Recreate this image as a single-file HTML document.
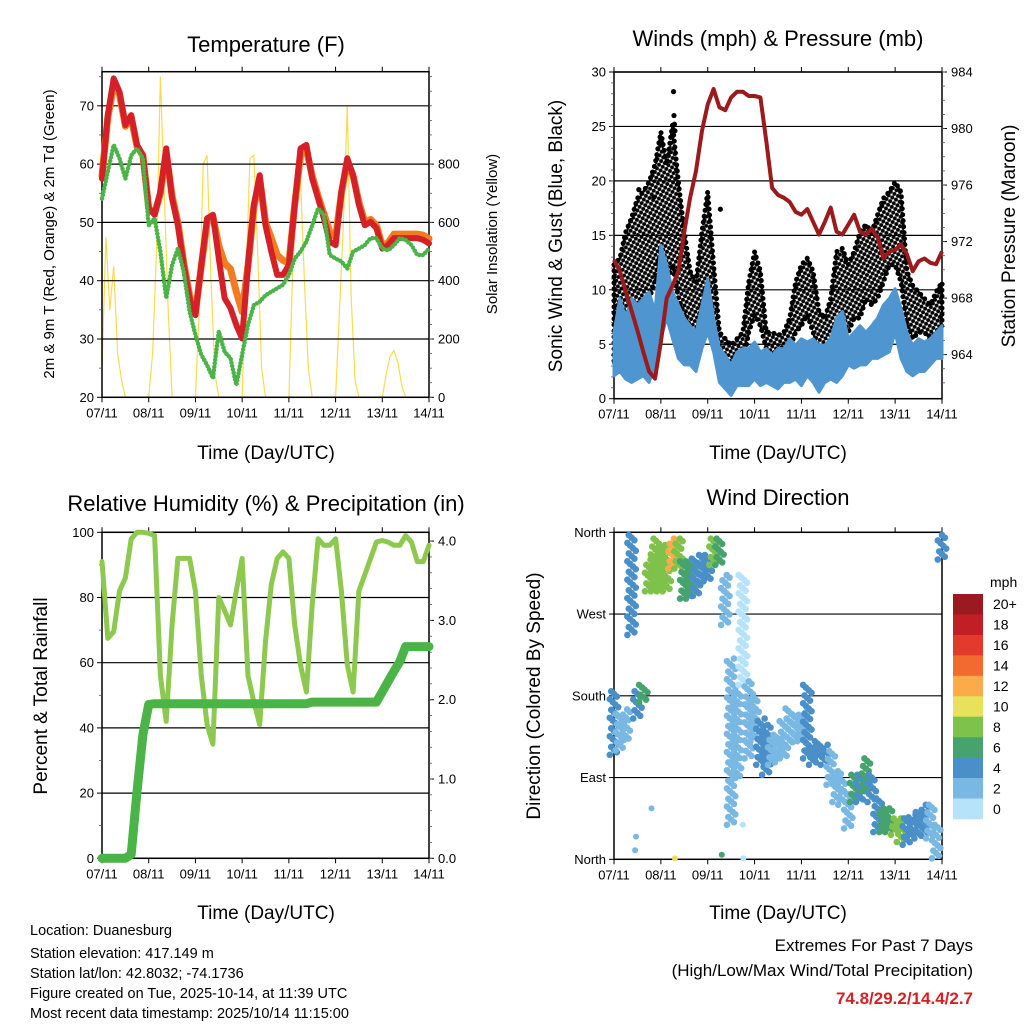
<!DOCTYPE html>
<html><head><meta charset="utf-8"><style>
body{margin:0;background:#fff}
svg{display:block;font-family:"Liberation Sans",sans-serif}
</style></head><body>
<svg id="c" width="1024" height="1024" viewBox="0 0 1024 1024" xmlns="http://www.w3.org/2000/svg">
<defs>
<pattern id="dotpat" width="4.2" height="4.2" patternUnits="userSpaceOnUse" patternTransform="rotate(30)">
<circle cx="2.1" cy="2.1" r="2.0" fill="#000"/>
</pattern>
</defs>
<rect x="0" y="0" width="1024" height="1024" fill="#fff"/>
<g id="g1"></g>
<g id="g2"></g>
<g id="g3"></g>
<g id="g4"></g>
<g font-size="22" text-anchor="middle" fill="#000">
<text x="266" y="52">Temperature (F)</text>
<text x="778" y="46">Winds (mph) &amp; Pressure (mb)</text>
<text x="266" y="511">Relative Humidity (%) &amp; Precipitation (in)</text>
<text x="778" y="505">Wind Direction</text>
</g>
<g font-size="19" text-anchor="middle" fill="#000">
<text x="266" y="459">Time (Day/UTC)</text>
<text x="778" y="459">Time (Day/UTC)</text>
<text x="266" y="919">Time (Day/UTC)</text>
<text x="778" y="919">Time (Day/UTC)</text>
<text transform="translate(562,236) rotate(-90)">Sonic Wind &amp; Gust (Blue, Black)</text>
<text transform="translate(1015,236) rotate(-90)">Station Pressure (Maroon)</text>
<text transform="translate(47,696) rotate(-90)">Percent &amp; Total Rainfall</text>
<text transform="translate(540,696) rotate(-90)">Direction (Colored By Speed)</text>
</g>
<g font-size="15" text-anchor="middle" fill="#000">
<text transform="translate(54,234) rotate(-90)">2m &amp; 9m T (Red, Orange) &amp; 2m Td (Green)</text>
<text transform="translate(497,234) rotate(-90)">Solar Insolation (Yellow)</text>
</g>
<g font-size="14.5" fill="#000">
<text x="30" y="935">Location: Duanesburg</text>
<text x="30" y="958">Station elevation: 417.149 m</text>
<text x="30" y="978">Station lat/lon: 42.8032; -74.1736</text>
<text x="30" y="998">Figure created on Tue, 2025-10-14, at 11:39 UTC</text>
<text x="30" y="1018">Most recent data timestamp: 2025/10/14 11:15:00</text>
</g>
<g font-size="17" text-anchor="end" fill="#000">
<text x="973" y="951">Extremes For Past 7 Days</text>
<text x="973" y="976">(High/Low/Max Wind/Total Precipitation)</text>
<text x="973" y="1004" fill="#d42027" font-weight="bold">74.8/29.2/14.4/2.7</text>
</g>
</svg>
<script>
// ---- data (3-hour steps, 57 points over 7 days) ----
const dayLabels = ["07/11","08/11","09/11","10/11","11/11","12/11","13/11","14/11"];
const tempRed = [57.5,68.4,74.7,72.4,66.7,68.4,63.3,61.5,52.4,51.3,55.3,62.7,54.1,49.5,42.7,37,34.1,42.7,50.7,51.3,43.8,37,35.3,32.4,30.1,42.7,53,58.1,49.5,45,41,41,42.7,53,62.7,63.3,57.5,54.1,50.7,46.7,46.1,55.3,61,58.1,53,49.5,50.1,49,45.5,46.1,47.3,47.3,47.3,47.3,47.3,47,46.4];
const tempOrange = [58,68,73.5,72,66.5,68,63,61.5,52.5,51.5,55,62,54.5,50,43,37.5,34.5,42.5,50,51,46,43,42,38.1,34.7,42.5,52.5,57.5,50,47.3,44.4,43.5,43,53,61.5,62.5,58,54.5,51.5,48.4,47.5,55,60.5,58,53.5,50,50.5,49.5,46,46.5,48,48,48,48,48,47.8,47.2];
const dewGreen = [54.1,58.7,63.3,61,57.5,61.5,62.7,61,49.5,50.7,45,37,42.7,45.5,41.5,34.7,30.7,27.3,25.5,23.3,31.3,27.8,26.7,22.1,27.3,32.4,35.8,36.4,37.5,38.1,38.7,39.3,41,43.8,45,46.7,49.5,52.4,51.3,44.4,43.8,43.3,42.1,45,45.5,46.1,47.3,47.3,45.5,45.2,46.1,47.3,47,46.1,44.4,44.4,45.5];
// solar at 2-hour steps (85 points)
const solar = [100,550,300,450,150,60,0,0,0,0,0,0,
 0,150,500,1100,700,300,0,0,0,0,0,0,
 0,300,800,830,400,80,0,0,0,0,0,0,
 0,400,820,830,500,100,0,0,0,0,0,0,
 0,450,700,750,400,100,0,0,0,0,0,0,
 0,300,600,1000,350,60,0,0,0,0,0,0,
 0,80,140,160,120,40,0,0,0,0,0,0,0];
const pressure = [970.7,969.9,968.5,967.1,965.7,964.2,962.8,962.3,964.9,968,968.9,969.9,972.7,975.1,977,979.8,981.7,982.8,981.5,981.3,982.2,982.6,982.6,982.3,982.3,982.2,979.1,975.8,975.3,975.1,974.8,974.1,973.9,974.3,973.4,972.5,973.4,974.4,972.7,972.5,973.2,973.9,972.7,972.5,972.9,972.3,970.8,971.3,971.4,971.8,971.1,969.9,970.6,970.8,970.5,970.4,971.3];
const windLo = [2.1,2.5,1.8,1.5,1.8,2.1,1.5,3.1,5.5,7.4,5.5,3.7,3.1,3.1,2.5,4.6,6.1,4.3,1.5,0.9,0.3,1.2,1.2,1.2,1.8,1.2,1.5,1.2,0.9,1.5,1.5,1.8,1.2,2.1,1.5,0.6,1.5,1.8,1.5,2.1,3.1,2.8,3.1,3.1,3.7,3.7,4.0,4.3,6.1,3.7,2.5,2.1,2.5,2.5,3.1,3.7,3.7];
const windHi = [6.1,9.2,7.4,9.2,8.6,9.2,9.8,8.0,14.1,12.3,9.8,8.6,7.4,6.7,6.1,8.6,11.0,7.4,4.6,4.0,3.1,4.3,4.6,4.6,5.2,4.3,4.6,4.0,4.6,4.6,5.5,4.9,5.5,5.2,5.5,4.9,4.9,5.5,7.4,8.0,5.5,6.1,6.7,6.1,6.7,7.4,8.6,9.2,10.1,8.3,6.1,4.9,5.5,5.2,5.5,6.1,6.7];
const gustLo = [3.1,4.6,4.6,4.0,6.1,6.7,9.2,10.7,13.8,10.7,12.3,9.2,7.7,6.1,5.5,8.6,10.7,6.7,3.7,2.5,1.5,3.1,3.1,6.1,7.7,6.7,4.6,3.1,3.1,3.7,4.6,6.1,6.7,7.7,6.1,4.3,3.7,4.3,4.6,6.7,6.1,7.4,7.4,9.2,8.6,9.2,10.7,12.3,12.3,10.7,6.7,5.5,6.1,6.1,5.5,6.1,6.7];
const gustHi = [12.3,12.9,15.3,16.6,18.4,19.0,19.9,21.5,24.5,21.5,25.2,19.9,15.3,11.7,10.7,15.3,19.0,12.3,6.1,5.5,4.9,5.5,6.1,10.7,13.5,11.7,6.1,6.1,5.8,6.1,7.4,10.7,12.3,12.9,11.7,8.0,7.4,9.2,13.5,13.8,12.3,13.5,15.3,16.0,15.3,16.9,18.4,19.0,19.9,19.0,11.7,10.4,9.8,9.2,8.6,9.8,10.7];
const gustOutT = [1.27,1.28,1.29,1.3,0.53,0.85,2.27];
const gustOutV = [28.2,26,25.2,24.6,19.2,18.5,17.4];
const rh = [91,67.5,69.5,82,86,98,100,100,99.7,99,56,42,71.6,92,92,92,82,56,41,35,80,76,71.6,82,92,56,48,41,66.5,84,92,94,92,71.6,59.3,51,77.7,98,96,96,98,82,59.3,51,82,87,92,97,97.5,97,96,96,99,97,91,91,96];
const precip = [0,0,0,0,0,0.05,0.84,1.56,1.94,1.95,1.95,1.95,1.95,1.95,1.95,1.95,1.95,1.95,1.95,1.95,1.95,1.95,1.95,1.95,1.95,1.95,1.95,1.95,1.95,1.95,1.95,1.95,1.95,1.95,1.95,1.95,1.97,1.97,1.97,1.97,1.97,1.97,1.97,1.97,1.97,1.97,1.97,1.97,2.1,2.23,2.36,2.48,2.67,2.67,2.67,2.67,2.67];
const dirLo = [115,120,130,247,155,173,295,295,295,295,320,320,287,287,290,306,306,324,324,258,38,89,192,111,130,104,93,104,111,111,126,130,130,111,104,111,104,82,63,60,34,63,63,75,63,30,30,30,27,19,16,27,23,27,23,1,330];
const dirHi = [185,160,165,357,185,192,330,353,346,346,353,353,328,328,331,335,335,353,353,313,221,185,313,196,177,155,148,137,133,155,166,159,162,192,126,130,126,119,97,89,75,93,93,111,93,67,56,56,45,45,45,49,52,60,60,38,357];
const dirSpd = [4,3,2,5,4,7,8,8,8,8,12,8,6,6,4,4,5,8,7,3,2,2,1,3,3,4,4,3,2,2,2,2,3,4,4,4,4,3,2,3,3,6,5,6,4,4,6,6,8,9,5,4,4,4,3,3,5];
const strayT = [0.45,0.47,0.8,1.3,2.3,2.75,2.76];
const strayDir = [10,25,56,1,5,38,1];
const strayS = [3,3,3,10,6,1,1];
const cbLabels = ["20+","18","16","14","12","10","8","6","4","2","0"];
const cbColors = ["#9b1a1f","#c21e26","#e23a2c","#f26a2d","#fbab4a","#e8e15b","#7fc24b","#47a36e","#4a8fc7","#7ab8e4","#b6e3f9"];

const NS="http://www.w3.org/2000/svg";
function mk(tag, attrs, parent){const e=document.createElementNS(NS,tag);for(const k in attrs)e.setAttribute(k,attrs[k]);parent.appendChild(e);return e;}
function ptsOf(xs,ys){return xs.map((x,i)=>x.toFixed(1)+","+ys[i].toFixed(1)).join(" ");}

function axes(g, P, leftTicks, leftFmt, leftMinor, rightTicks, rightFmt, rightMinor, yL, yR, gridVals, prefix){
  gridVals.forEach(v=>{
    const l=mk("line",{x1:P.x0,x2:P.x1,y1:yL(v),y2:yL(v),stroke:"#000","stroke-width":1.2},g);
    
    
  });
  const fr=mk("rect",{x:P.x0,y:P.y0,width:P.x1-P.x0,height:P.y1-P.y0,fill:"none",stroke:"#000","stroke-width":1.5},g);
  
  
  dayLabels.forEach((lab,i)=>{
    const x=P.x0+i*(P.x1-P.x0)/7;
    const t1=mk("line",{x1:x,x2:x,y1:P.y1,y2:P.y1+5,stroke:"#000","stroke-width":1},g);
    
    
    const t2=mk("line",{x1:x,x2:x,y1:P.y0,y2:P.y0-5,stroke:"#000","stroke-width":1},g);
    
    
    const tx=mk("text",{x:x,y:P.y1+20,"font-size":13,"text-anchor":"middle"},g);
    tx.textContent=lab;
    
    
  });
  leftTicks.forEach(v=>{
    const y=yL(v);
    const t=mk("line",{x1:P.x0-5,x2:P.x0,y1:y,y2:y,stroke:"#000","stroke-width":1},g);
    
    
    const tx=mk("text",{x:P.x0-8,y:y+4.5,"font-size":13,"text-anchor":"end"},g);
    tx.textContent=leftFmt(v);
    
    
  });
  leftMinor.forEach(v=>{
    const t=mk("line",{x1:P.x0-3,x2:P.x0,y1:yL(v),y2:yL(v),stroke:"#555","stroke-width":0.8},g);
    
    
  });
  if(rightTicks){
    rightTicks.forEach(v=>{
      const y=yR(v);
      const t=mk("line",{x1:P.x1,x2:P.x1+5,y1:y,y2:y,stroke:"#000","stroke-width":1},g);
      
      
      const tx=mk("text",{x:P.x1+9,y:y+4.5,"font-size":13,"text-anchor":"start"},g);
      tx.textContent=rightFmt(v);
      
      
    });
    rightMinor.forEach(v=>{
      const t=mk("line",{x1:P.x1,x2:P.x1+3,y1:yR(v),y2:yR(v),stroke:"#555","stroke-width":0.8},g);
      
      
    });
  }
}
function range(a,b,s){const r=[];for(let v=a;v<=b+1e-9;v+=s)r.push(+v.toFixed(3));return r;}

// ---------- Panel 1: temperature ----------
(function(){
  const g=document.getElementById("g1");
  const P={x0:102,x1:429,y0:71.7,y1:397.3};
  const x=d=>P.x0+d*(P.x1-P.x0)/7;
  const yT=v=>P.y1-(v-20)*5.83;
  const yS=v=>P.y1-v*0.2915;
  const tt=tempRed.map((_,i)=>i*3/24);
  const st=solar.map((_,i)=>i*2/24);
  const sl=mk("polyline",{points:ptsOf(st.map(x),solar.map(yS)),fill:"none",stroke:"#f8dc4c","stroke-width":1.2},g);
  
  
  axes(g,P,range(20,70,10),v=>v,range(25,75,10),range(0,800,200),v=>v,range(0,1100,50),yT,yS,range(20,70,10),"temp");
  const o=mk("polyline",{points:ptsOf(tt.map(x),tempOrange.map(yT)),fill:"none",stroke:"#f47c20","stroke-width":7,"stroke-linejoin":"round","stroke-linecap":"round"},g);
  
  
  const r=mk("polyline",{points:ptsOf(tt.map(x),tempRed.map(yT)),fill:"none",stroke:"#d42027","stroke-width":6,"stroke-linejoin":"round","stroke-linecap":"round"},g);
  
  
  const gr=mk("polyline",{points:ptsOf(tt.map(x),dewGreen.map(yT)),fill:"none",stroke:"#4bb447","stroke-width":4.5,"stroke-dasharray":"0 3.5","stroke-linecap":"round","stroke-linejoin":"round"},g);
  
  
})();

// ---------- Panel 2: winds & pressure ----------
(function(){
  const g=document.getElementById("g2");
  const P={x0:614,x1:942,y0:72,y1:398.7};
  const x=d=>P.x0+d*(P.x1-P.x0)/7;
  const yW=v=>P.y1-v*10.89;
  const yP=v=>P.y0+(984-v)*14.13;
  const tt=pressure.map((_,i)=>i*3/24);
  axes(g,P,range(0,30,5),v=>v,range(1,29,1),range(964,984,4),v=>v,range(962,984,1),yW,yP,range(0,30,5),"wind");
  const gp=tt.map(x).concat(tt.map(x).slice().reverse());
  const gy=gustHi.map(yW).concat(gustLo.map(yW).slice().reverse());
  const gb=mk("polygon",{points:ptsOf(gp,gy),fill:"url(#dotpat)",stroke:"#000","stroke-width":2.5,"stroke-dasharray":"0 4.5","stroke-linecap":"round","stroke-linejoin":"round"},g);
  
  
  const gb2=mk("polygon",{points:ptsOf(gp,gy),fill:"none",stroke:"#000","stroke-width":5,"stroke-dasharray":"0 6","stroke-linecap":"round","stroke-linejoin":"round"},g);
  
  
  gustOutT.forEach((t,i)=>{
    const c=mk("circle",{cx:x(t),cy:yW(gustOutV[i]),r:2.6,fill:"#000"},g);
    
    
  });
  const wy=windHi.map(yW).concat(windLo.map(yW).slice().reverse());
  const wb=mk("polygon",{points:ptsOf(gp,wy),fill:"#4f95d0",stroke:"#4f95d0","stroke-width":3,"stroke-linejoin":"round"},g);
  
  
  const pl=mk("polyline",{points:ptsOf(tt.map(x),pressure.map(yP)),fill:"none",stroke:"#9b1a1c","stroke-width":4,"stroke-linejoin":"round"},g);
  
  
})();

// ---------- Panel 3: RH & precip ----------
(function(){
  const g=document.getElementById("g3");
  const P={x0:102,x1:429,y0:532.3,y1:858.3};
  const x=d=>P.x0+d*(P.x1-P.x0)/7;
  const yR=v=>P.y1-v*3.26;
  const yP=v=>P.y1-v*79.3;
  const tt=rh.map((_,i)=>i*3/24);
  axes(g,P,range(0,100,20),v=>v,range(10,90,20),range(0,4,1),v=>v.toFixed(1),range(0,4.1,0.2),yR,yP,range(0,100,20),"rh");
  const r=mk("polyline",{points:ptsOf(tt.map(x),rh.map(yR)),fill:"none",stroke:"#8dc84f","stroke-width":5,"stroke-linejoin":"round","stroke-linecap":"round"},g);
  
  
  const p=mk("polyline",{points:ptsOf(tt.map(x),precip.map(yP)),fill:"none",stroke:"#4bb447","stroke-width":9,"stroke-linejoin":"round","stroke-linecap":"round"},g);
  
  
})();

// ---------- Panel 4: wind direction ----------
(function(){
  const g=document.getElementById("g4");
  const P={x0:614,x1:942,y0:532.3,y1:859.3};
  const x=d=>P.x0+d*(P.x1-P.x0)/7;
  const yD=v=>P.y1-v*(P.y1-P.y0)/360;
  const dirNames={0:"North",90:"East",180:"South",270:"West",360:"North"};
  axes(g,P,[0,90,180,270,360],v=>dirNames[v],[],null,null,null,yD,null,[90,180,270,360],"dir");
  const col=s=>cbColors[10-Math.min(10,Math.floor(s/2))];
  const step=3/24;
  dirLo.forEach((lo,i)=>{
    const hi=dirHi[i];
    const y0=yD(lo), y1=yD(hi);
    const n=Math.max(2,Math.round(Math.abs(y0-y1)/2.6));
    for(let j=0;j<=n;j++){
      const yy=y0+(y1-y0)*j/n;
      const xx=x(i*step)+((j*5)%7-3)*1.4;
      const c=mk("circle",{cx:xx,cy:yy,r:3.3,fill:col(dirSpd[i])},g);
      
      
    }
  });
  strayT.forEach((t,i)=>{
    const c=mk("circle",{cx:x(t),cy:yD(strayDir[i]),r:3,fill:col(strayS[i])},g);
    
    
  });
  const mp=mk("text",{x:990,y:587,"font-size":14},g);
  mp.textContent="mph";
  
  
  cbColors.forEach((c,i)=>{
    const bh=225/11, by=594+i*bh;
    const r=mk("rect",{x:953,y:by,width:30,height:bh+0.3,fill:c},g);
    
    
    const t=mk("text",{x:993,y:by+bh/2+5,"font-size":14},g);
    t.textContent=cbLabels[i];
    
    
  });
})();
</script>
</body></html>
